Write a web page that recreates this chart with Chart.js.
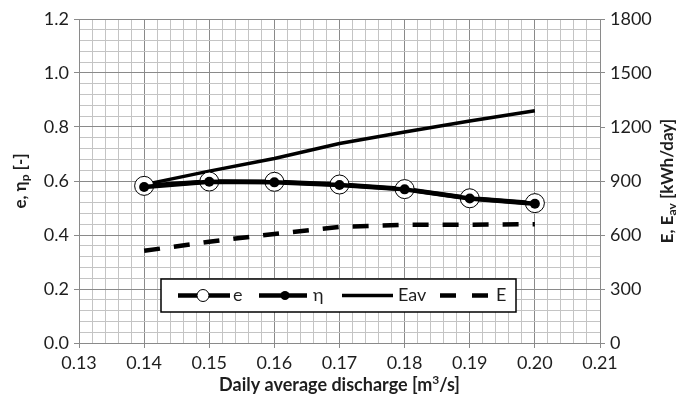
<!DOCTYPE html>
<html lang="en">
<head>
  <meta charset="UTF-8">
  <title>e, η and energy vs daily average discharge</title>
  <script src="https://cdn.jsdelivr.net/npm/chart.js"></script>
  <style>
    html, body { margin: 0; padding: 0; background: #fff; }
    #box { position: relative; width: 690px; height: 400px; }
  </style>
</head>
<body>
  <div id="box"><canvas id="chart"></canvas></div>
  <script>
    // discharge [m3/s]
    const discharge = [0.14, 0.15, 0.16, 0.17, 0.18, 0.19, 0.20];
    const eVals   = [0.582, 0.598, 0.597, 0.587, 0.570, 0.536, 0.518];
    const etaVals = [0.578, 0.597, 0.595, 0.585, 0.569, 0.535, 0.516];
    // kWh/day
    const eavVals = [880, 955, 1025, 1108, 1172, 1233, 1290];
    const eVals2  = [512, 563, 606, 645, 657, 657, 660];

    const xTickLabels = ['0.13', '0.14', '0.15', '0.16', '0.17', '0.18', '0.19', '0.20', '0.21'];
    const yLeftLabels = ['0.0', '0.2', '0.4', '0.6', '0.8', '1.0', '1.2'];
    const yRightLabels = ['0', '300', '600', '900', '1200', '1500', '1800'];

    const FONT = "Lato, 'Open Sans', sans-serif";
    const TXT = '#1e1e1e';
    const MAJOR = '#8a8a8a', MINOR = '#c4c4c4';

    const pts = ys => discharge.map((x, i) => ({ x, y: ys[i] }));
    const gridCol = c => c.index % 5 === 0 ? MAJOR : MINOR;
    const tickCol = c => c.index % 5 === 0 ? MAJOR : 'rgba(0,0,0,0)';
    const pick = arr => (v, i) => i % 5 === 0 ? arr[i / 5] : '';

    // axis titles with sub/superscripts + legend box inside the plot
    const extras = {
      id: 'extras',
      afterDatasetsDraw(chart) {
        const c = chart.ctx;
        const lx = 161, ly = 279, lw = 355, lh = 33, my = ly + lh / 2;
        c.save();
        c.fillStyle = '#fff';
        c.fillRect(lx, ly, lw, lh);
        c.strokeStyle = '#000'; c.lineWidth = 1.5;
        c.strokeRect(lx, ly, lw, lh);
        c.lineCap = 'butt';
        const seg = (x1, x2, w, dash) => {
          c.beginPath(); c.setLineDash(dash || []); c.lineWidth = w;
          c.moveTo(x1, my); c.lineTo(x2, my); c.stroke(); c.setLineDash([]);
        };
        seg(178, 230, 4.5);
        c.beginPath(); c.arc(203, my, 6, 0, Math.PI * 2);
        c.fillStyle = '#fff'; c.fill(); c.lineWidth = 1; c.stroke();
        seg(259, 307, 4.5);
        c.beginPath(); c.arc(285, my, 4.5, 0, Math.PI * 2);
        c.fillStyle = '#000'; c.fill();
        seg(342, 393, 3.5);
        seg(440, 488, 4.5, [16, 16]);
        c.fillStyle = TXT; c.font = '18px ' + FONT; c.textBaseline = 'middle';
        c.fillText('e', 233, my);
        c.fillText('η', 313, my);
        c.fillText('Eav', 398, my);
        c.fillText('E', 496, my);
        c.restore();
      },
      afterDraw(chart) {
        const c = chart.ctx, a = chart.chartArea;
        const cy = (a.top + a.bottom) / 2;
        const big = 'bold 17px ' + FONT, small = 'bold 12px ' + FONT;
        const drawParts = (list, x, y) => {
          let w = 0;
          list.forEach(p => { c.font = p[1]; w += c.measureText(p[0]).width; });
          let px = x - w / 2;
          list.forEach(p => {
            c.font = p[1]; c.fillText(p[0], px, y + p[2]); px += c.measureText(p[0]).width;
          });
        };
        c.save();
        c.fillStyle = TXT; c.textBaseline = 'middle'; c.textAlign = 'left';

        drawParts([['Daily average discharge [m', 'bold 18px ' + FONT, 0], ['3', small, -5],
          ['/s]', 'bold 18px ' + FONT, 0]], (a.left + a.right) / 2, 385);

        c.save();
        c.translate(21, cy); c.rotate(-Math.PI / 2);
        drawParts([['e, η', big, 0], ['p', small, 4], [' [-]', big, 0]], 0, 0);
        c.restore();

        c.save();
        c.translate(668, cy); c.rotate(-Math.PI / 2);
        drawParts([['E, E', big, 0], ['av', small, 4], [' [kWh/day]', big, 0]], 0, 0);
        c.restore();

        c.restore();
      }
    };

    new Chart(document.getElementById('chart'), {
      type: 'line',
      data: {
        datasets: [
          {
            label: 'η', data: pts(etaVals), yAxisID: 'y', order: 0,
            borderColor: '#000', borderWidth: 4.5,
            pointRadius: 5, pointBackgroundColor: '#000', pointBorderColor: '#000', pointBorderWidth: 0
          },
          {
            label: 'e', data: pts(eVals), yAxisID: 'y', order: 1,
            borderColor: '#000', borderWidth: 4.5,
            pointRadius: 9.5, pointBackgroundColor: '#fff', pointBorderColor: '#000', pointBorderWidth: 1
          },
          {
            label: 'Eav', data: pts(eavVals), yAxisID: 'y2', order: 2,
            borderColor: '#000', borderWidth: 3.5, pointRadius: 0
          },
          {
            label: 'E', data: pts(eVals2), yAxisID: 'y2', order: 3,
            borderColor: '#000', borderWidth: 4.5, borderDash: [16, 14], pointRadius: 0
          }
        ]
      },
      options: {
        responsive: true, maintainAspectRatio: false, animation: false,
        layout: { padding: { top: 19, left: 0, right: 0, bottom: 0 } },
        plugins: { legend: { display: false }, tooltip: { enabled: false } },
        scales: {
          x: {
            type: 'linear', min: 0.13, max: 0.21,
            afterFit: s => { s.height = 57; },
            ticks: {
              stepSize: 0.002, autoSkip: false, maxRotation: 0, padding: 4,
              color: TXT, font: { family: FONT, size: 18 }, callback: pick(xTickLabels)
            },
            grid: { color: gridCol, tickColor: tickCol, tickLength: 5 },
            border: { color: MAJOR }
          },
          y: {
            position: 'left', min: 0, max: 1.2,
            afterFit: s => { s.width = 79; },
            ticks: {
              stepSize: 0.04, autoSkip: false, padding: 5,
              color: TXT, font: { family: FONT, size: 18 }, callback: pick(yLeftLabels)
            },
            grid: { color: gridCol, tickColor: tickCol, tickLength: 5 },
            border: { color: MAJOR }
          },
          y2: {
            position: 'right', min: 0, max: 1800,
            afterFit: s => { s.width = 90; },
            ticks: {
              stepSize: 60, autoSkip: false, padding: 5,
              color: TXT, font: { family: FONT, size: 18 }, callback: pick(yRightLabels)
            },
            grid: { drawOnChartArea: false, tickColor: tickCol, tickLength: 5 },
            border: { color: MAJOR }
          }
        }
      },
      plugins: [extras]
    });
  </script>
</body>
</html>
